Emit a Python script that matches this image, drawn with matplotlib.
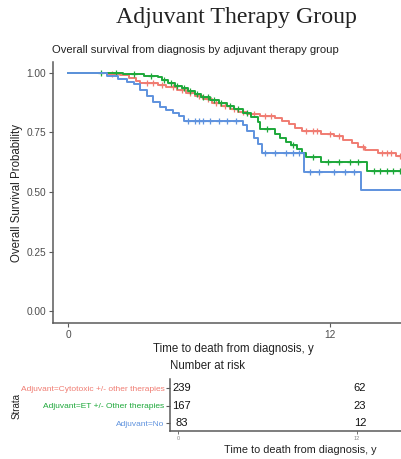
import numpy as np
import matplotlib.pyplot as plt

plt.rcParams['font.family'] = ['Liberation Sans', 'DejaVu Sans']

# strata, colours
groups = ["Adjuvant=Cytotoxic +/- other therapies", "Adjuvant=ET +/- Other therapies", "Adjuvant=No"]
colors = ["#F07C72", "#1DA83A", "#5E92DE"]

# Kaplan-Meier steps (years, survival)
cyto_t = [0, 1.8, 2.4, 2.8, 3.1, 3.3, 4.1, 4.5, 5.0, 5.4, 5.8, 6.2, 6.6, 7.0, 7.4, 7.8, 8.2,
          8.8, 9.5, 9.8, 10.1, 10.4, 10.7, 11.6, 12.2, 12.6, 13.0, 13.3, 13.6, 14.2, 15.0]
cyto_s = [1.0, 0.996, 0.99, 0.98, 0.965, 0.958, 0.95, 0.94, 0.93, 0.915, 0.905, 0.89, 0.875,
          0.862, 0.85, 0.838, 0.826, 0.818, 0.81, 0.798, 0.785, 0.77, 0.755, 0.745, 0.735,
          0.72, 0.705, 0.69, 0.678, 0.665, 0.652]
cyto_cens = [2.0, 3.6, 3.9, 4.3, 4.8, 5.2, 5.6, 6.0, 6.4, 6.8, 7.2, 7.6, 8.0, 8.5, 9.0, 9.3,
             10.9, 11.2, 11.4, 12.0, 12.4, 13.5, 14.4, 14.6, 14.8, 15.2]

et_t = [0, 2.5, 3.5, 4.1, 4.3, 4.6, 4.9, 5.2, 5.5, 5.8, 6.1, 6.5, 6.9, 7.3, 7.6, 8.0, 8.4,
        8.7, 8.8, 9.5, 9.7, 10.0, 10.2, 10.5, 10.7, 10.9, 11.6, 13.7]
et_s = [1.0, 0.994, 0.988, 0.982, 0.97, 0.958, 0.946, 0.937, 0.925, 0.913, 0.9, 0.887, 0.875,
        0.862, 0.85, 0.83, 0.815, 0.795, 0.765, 0.745, 0.725, 0.71, 0.697, 0.68, 0.665, 0.645,
        0.625, 0.59]
et_cens = [1.5, 2.2, 3.0, 3.8, 4.4, 4.7, 5.0, 5.3, 5.6, 5.9, 6.2, 6.4, 6.7, 7.0, 7.4, 7.8,
           8.2, 9.1, 10.3, 11.2, 11.9, 12.4, 12.9, 13.3, 14.0, 14.3, 14.6, 14.9, 15.2]

no_t = [0, 1.8, 2.3, 2.7, 3.0, 3.3, 3.6, 3.9, 4.2, 4.5, 4.8, 5.1, 5.3, 8.0, 8.2, 8.5, 8.7,
        8.9, 10.8, 13.4]
no_s = [1.0, 0.988, 0.976, 0.964, 0.952, 0.928, 0.904, 0.88, 0.856, 0.844, 0.832, 0.82, 0.80,
        0.78, 0.757, 0.727, 0.70, 0.665, 0.585, 0.51]
no_cens = [5.5, 5.8, 6.0, 6.2, 6.5, 6.9, 7.3, 7.7, 9.0, 9.5, 10.0, 10.3, 10.6, 11.1, 11.5,
           12.2, 12.7, 13.1]

end_time = 15.8

# number at risk table
risk_times = [0, 12]
risk_cyto = [239, 62]
risk_et = [167, 23]
risk_no = [83, 12]

y_ticks = [0, 0.25, 0.5, 0.75, 1.0]
y_ticklabels = ["0.00", "0.25", "0.50", "0.75", "1.00"]
x_ticks = [0, 12]

W, H = 401, 459
fig = plt.figure(figsize=(W / 100, H / 100), dpi=100)
fig.patch.set_facecolor('white')

def px_axes(left, top, right, bottom):
    return fig.add_axes([left / W, 1 - bottom / H, (right - left) / W, (bottom - top) / H])

def step_value(t, s, x):
    idx = np.searchsorted(np.array(t), np.array(x), side='right') - 1
    return np.array(s)[idx]

axis_col = '#5a5a5a'
text_col = '#4d4d4d'

# main KM panel
ax = px_axes(53, 62, 413, 323)
curves = [(cyto_t, cyto_s, cyto_cens), (et_t, et_s, et_cens), (no_t, no_s, no_cens)]
for (t, s, cens), col in zip(curves, colors):
    ax.step(t + [end_time], s + [s[-1]], where='post', color=col, lw=1.4)
    ax.plot(cens, step_value(t, s, cens), ls='none', marker='+', ms=4, mew=0.9, color=col)

ax.set_xlim(-0.687, 15.8)
ax.set_ylim(-0.05, 1.046)
ax.set_yticks(y_ticks)
ax.set_yticklabels(y_ticklabels)
ax.set_xticks(x_ticks)
for side in ['top', 'right']:
    ax.spines[side].set_visible(False)
for side in ['left', 'bottom']:
    ax.spines[side].set_color(axis_col)
    ax.spines[side].set_linewidth(1.1)
ax.tick_params(length=3, width=0.8, color=axis_col, labelcolor=text_col, labelsize=7.3, pad=2)
ax.set_xlabel("Time to death from diagnosis, y", fontsize=8.3, color='#222222', labelpad=2)

fig.text(17 / W, 1 - 193 / H, "Overall Survival Probability", rotation=90, fontsize=8.3,
         color='#222222', ha='center', va='center')
fig.text(236 / W, 1 - 18 / H, "Adjuvant Therapy Group", fontsize=17.2, color='#222222',
         family=['Liberation Serif', 'DejaVu Serif'], ha='center', va='center')
fig.text(52 / W, 1 - 50 / H, "Overall survival from diagnosis by adjuvant therapy group",
         fontsize=8.1, color='#222222', ha='left', va='center')

# risk table panel
rk = px_axes(170, 379.5, 430, 431)
rows = [3, 2, 1]
for counts, row in zip([risk_cyto, risk_et, risk_no], rows):
    for tt, n in zip(risk_times, counts):
        rk.text(tt + 0.2, row, str(n), ha='center', va='center', fontsize=8, color='#111111')
rk.set_xlim(-0.571, 16.9)
rk.set_ylim(0.55, 3.5)
rk.set_yticks(rows)
rk.set_yticklabels(groups)
for lab, col in zip(rk.get_yticklabels(), colors):
    lab.set_color(col)
rk.set_xticks(x_ticks)
for side in ['top', 'right']:
    rk.spines[side].set_visible(False)
for side in ['left', 'bottom']:
    rk.spines[side].set_color(axis_col)
    rk.spines[side].set_linewidth(1.1)
rk.tick_params(axis='y', length=3, width=0.8, color=axis_col, labelsize=6, pad=1)
rk.tick_params(axis='x', length=2, width=0.6, color=axis_col, labelcolor='#888888',
               labelsize=4, pad=1.5)
rk.set_xlabel("Time to death from diagnosis, y", fontsize=7.8, color='#222222', labelpad=3)

fig.text(170 / W, 1 - 366 / H, "Number at risk", fontsize=8.3, color='#222222',
         ha='left', va='center')
fig.text(17 / W, 1 - 406 / H, "Strata", rotation=90, fontsize=7, color='#222222',
         ha='center', va='center')

plt.savefig("out.png", dpi=100)
plt.close()
